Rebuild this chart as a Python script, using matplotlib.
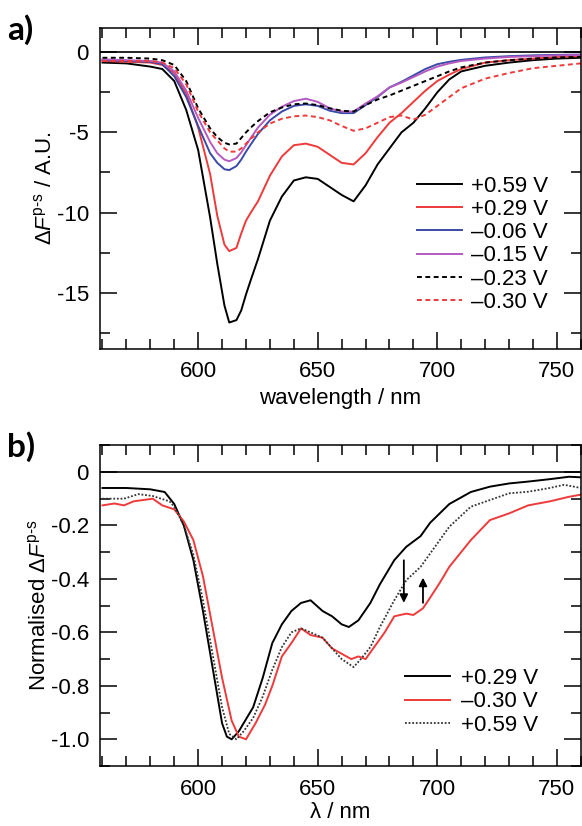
# 光谱差分图 a) / b)
import matplotlib.pyplot as plt
from matplotlib.ticker import MultipleLocator

plt.rcParams['font.family'] = ['Liberation Sans', 'DejaVu Sans']
plt.rcParams['font.size'] = 16
plt.rcParams['mathtext.fontset'] = 'custom'
plt.rcParams['mathtext.rm'] = 'Liberation Sans'
plt.rcParams['mathtext.it'] = 'Liberation Sans:italic'
plt.rcParams['axes.unicode_minus'] = False

# -------------------------- 数据 a) --------------------------
wl_a = [560, 570, 580, 585, 590, 595, 600, 605, 608, 611, 613, 616, 618, 620, 622, 625, 630, 635,
        640, 645, 650, 655, 660, 665, 670, 675, 680, 685, 690, 695, 700, 705, 710,
        720, 730, 740, 750, 760]
a_p059 = [-0.65, -0.7, -0.9, -1.05, -1.8, -3.6, -6.1, -10.3, -13.2, -15.8, -16.85, -16.7, -16.1, -15.1, -14.2,
          -12.9, -10.5, -9.0, -8.0, -7.8, -7.9, -8.4, -8.9, -9.3, -8.3, -7.0, -6.0, -5.0, -4.4, -3.5,
          -2.5, -1.7, -1.2, -0.85, -0.65, -0.5, -0.4, -0.35]
a_p029 = [-0.55, -0.6, -0.65, -0.8, -1.3, -2.6, -4.7, -7.6, -10.2, -12.0, -12.4, -12.2, -11.3, -10.5, -10.0,
          -9.3, -7.7, -6.5, -5.8, -5.7, -5.9, -6.4, -6.9, -7.0, -6.3, -5.3, -4.4, -3.8, -3.1, -2.4,
          -1.8, -1.4, -1.05, -0.65, -0.5, -0.4, -0.3, -0.25]
a_m006 = [-0.5, -0.55, -0.6, -0.75, -1.5, -2.8, -4.6, -6.3, -6.9, -7.3, -7.35, -7.1, -6.7, -6.2, -5.75,
          -5.1, -4.25, -3.7, -3.35, -3.25, -3.35, -3.65, -3.8, -3.8, -3.3, -2.8, -2.2, -1.85, -1.45, -1.05,
          -0.75, -0.6, -0.48, -0.33, -0.25, -0.2, -0.17, -0.15]
a_m015 = [-0.45, -0.5, -0.55, -0.65, -1.2, -2.4, -4.1, -5.6, -6.3, -6.7, -6.8, -6.6, -6.25, -5.8, -5.35,
          -4.7, -3.9, -3.4, -3.05, -2.9, -3.1, -3.5, -3.7, -3.7, -3.2, -2.75, -2.2, -1.9, -1.55, -1.2,
          -0.9, -0.7, -0.55, -0.4, -0.3, -0.25, -0.2, -0.18]
a_m023 = [-0.35, -0.35, -0.4, -0.5, -0.8, -1.8, -3.5, -4.75, -5.3, -5.65, -5.75, -5.7, -5.35, -5.0, -4.7,
          -4.3, -3.75, -3.45, -3.25, -3.2, -3.3, -3.5, -3.65, -3.7, -3.3, -2.95, -2.7, -2.4, -2.1, -1.8,
          -1.5, -1.2, -0.95, -0.65, -0.5, -0.4, -0.33, -0.3]
a_m030 = [-0.55, -0.55, -0.55, -0.65, -1.0, -2.0, -3.7, -5.0, -5.5, -6.0, -6.2, -6.2, -6.0, -5.7, -5.4,
          -5.0, -4.45, -4.15, -4.0, -3.95, -4.05, -4.25, -4.6, -4.9, -4.75, -4.4, -4.05, -3.95, -4.2, -3.9,
          -3.35, -2.8, -2.25, -1.65, -1.3, -1.0, -0.85, -0.7]
labels_a = ['+0.59 V', '+0.29 V', '\u20130.06 V', '\u20130.15 V', '\u20130.23 V', '\u20130.30 V']

# -------------------------- 数据 b) --------------------------
wl_b1 = [560, 570, 580, 586, 590, 594, 598, 602, 606, 610, 612, 614, 617, 623, 627, 631, 635, 639, 643,
         647, 652, 656, 660, 663, 667, 672, 676, 682, 687, 693, 697, 701, 705, 714, 722, 730, 738, 747,
         755, 760]
b_p029 = [-0.06, -0.06, -0.065, -0.075, -0.12, -0.2, -0.33, -0.52, -0.73, -0.94, -0.99, -1.0, -0.97,
          -0.88, -0.77, -0.64, -0.57, -0.52, -0.49, -0.48, -0.52, -0.54, -0.57, -0.58, -0.555, -0.49,
          -0.42, -0.33, -0.28, -0.24, -0.19, -0.155, -0.12, -0.075, -0.055, -0.043, -0.036, -0.027,
          -0.018, -0.02]
wl_b2 = [560, 565, 569, 573, 577, 581, 585, 590, 594, 598, 602, 606, 610, 614, 617, 620, 624, 628, 631,
         635, 639, 643, 647, 652, 656, 660, 664, 667, 670, 674, 678, 682, 687, 690, 694, 697, 701, 705,
         714, 722, 730, 738, 747, 755, 760]
b_m030 = [-0.125, -0.118, -0.125, -0.11, -0.105, -0.1, -0.125, -0.14, -0.185, -0.255, -0.39, -0.58,
          -0.77, -0.93, -0.99, -1.0, -0.94, -0.87, -0.8, -0.69, -0.64, -0.585, -0.61, -0.62, -0.66,
          -0.68, -0.7, -0.69, -0.7, -0.65, -0.6, -0.54, -0.53, -0.535, -0.51, -0.47, -0.415, -0.355,
          -0.255, -0.18, -0.155, -0.125, -0.11, -0.093, -0.085]
wl_b3 = [560, 565, 569, 575, 581, 588, 590, 594, 598, 602, 606, 610, 613, 616, 619, 623, 627, 631, 635,
         639, 643, 647, 652, 656, 660, 665, 668, 672, 676, 682, 687, 693, 697, 701, 705, 714, 722, 730,
         738, 747, 753, 760]
b_p059 = [-0.1, -0.1, -0.1, -0.083, -0.09, -0.11, -0.13, -0.2, -0.31, -0.48, -0.68, -0.88, -0.98, -1.0,
          -0.97, -0.92, -0.84, -0.74, -0.655, -0.6, -0.585, -0.6, -0.62, -0.66, -0.7, -0.73, -0.7,
          -0.655, -0.58, -0.48, -0.405, -0.355, -0.305, -0.255, -0.205, -0.13, -0.105, -0.08, -0.074,
          -0.06, -0.048, -0.06]
labels_b = ['+0.29 V', '\u20130.30 V', '+0.59 V']

RED = '#ee3a3a'
BLUE = '#3a4aa6'
PURPLE = '#b45ac0'

fig = plt.figure(figsize=(5.82, 8.26), dpi=100)
ax1 = fig.add_axes([0.172, 0.5775, 0.826, 0.3885])
ax2 = fig.add_axes([0.172, 0.0726, 0.826, 0.3884])


def style_axes(ax, ymaj, ymin):
    for s in ax.spines.values():
        s.set_linewidth(1.1)
    ax.xaxis.set_major_locator(MultipleLocator(50))
    ax.xaxis.set_minor_locator(MultipleLocator(10))
    ax.yaxis.set_major_locator(MultipleLocator(ymaj))
    ax.yaxis.set_minor_locator(MultipleLocator(ymin))
    ax.tick_params(which='both', direction='in', width=1.1, top=True, right=True)
    ax.tick_params(which='major', length=12)
    ax.tick_params(which='minor', length=7)
    ax.tick_params(axis='x', which='major', pad=9)
    ax.tick_params(axis='y', which='major', pad=8)
    ax.axhline(0, color='black', lw=1.2)


# -------------------------- a) --------------------------
ax1.plot(wl_a, a_p059, color='black', lw=1.4, label=labels_a[0])
ax1.plot(wl_a, a_p029, color=RED, lw=1.4, label=labels_a[1])
ax1.plot(wl_a, a_m006, color=BLUE, lw=1.4, label=labels_a[2])
ax1.plot(wl_a, a_m015, color=PURPLE, lw=1.4, label=labels_a[3])
ax1.plot(wl_a, a_m023, color='black', lw=1.4, ls=(0, (2.5, 1.8)), label=labels_a[4])
ax1.plot(wl_a, a_m030, color=RED, lw=1.4, ls=(0, (2.5, 1.8)), label=labels_a[5])
ax1.set_xlim(559, 760)
ax1.set_ylim(-18.5, 1.5)
style_axes(ax1, 5, 2.5)
ax1.set_yticks([0, -5, -10, -15])
ax1.set_xlabel('wavelength / nm', labelpad=4)
ax1.set_ylabel(r'$\Delta F^{\text{p-s}}$ / A.U.', labelpad=0)
ax1.legend(loc='upper left', bbox_to_anchor=(0.66, 0.54), frameon=False, fontsize=16,
           handlelength=2.0, handletextpad=0.4, labelspacing=0.1, borderpad=0, borderaxespad=0)

# -------------------------- b) --------------------------
ax2.plot(wl_b1, b_p029, color='black', lw=1.4, label=labels_b[0])
ax2.plot(wl_b2, b_m030, color=RED, lw=1.4, label=labels_b[1])
ax2.plot(wl_b3, b_p059, color='#333333', lw=1.3, ls=(0, (1, 1)), label=labels_b[2])
ax2.annotate('', xy=(686, -0.50), xytext=(686, -0.32),
             arrowprops=dict(arrowstyle='-|>', color='black', lw=1.3, mutation_scale=12))
ax2.annotate('', xy=(694, -0.385), xytext=(694, -0.50),
             arrowprops=dict(arrowstyle='-|>', color='black', lw=1.3, mutation_scale=12))
ax2.set_xlim(559, 760)
ax2.set_ylim(-1.1, 0.1)
style_axes(ax2, 0.2, 0.1)
ax2.set_yticks([0, -0.2, -0.4, -0.6, -0.8, -1.0])
ax2.set_yticklabels(['0', '-0.2', '-0.4', '-0.6', '-0.8', '-1.0'])
ax2.set_xlabel('\u03bb / nm', labelpad=2)
ax2.set_ylabel(r'Normalised $\Delta F^{\text{p-s}}$', labelpad=0)
ax2.legend(loc='upper left', bbox_to_anchor=(0.635, 0.305), frameon=False, fontsize=16,
           handlelength=2.0, handletextpad=0.5, labelspacing=0.1, borderpad=0, borderaxespad=0)

fig.text(0.012, 1 - 40 / 826, 'a)', fontsize=24, fontweight='bold', family='Lato', va='baseline')
fig.text(0.012, 1 - 457 / 826, 'b)', fontsize=24, fontweight='bold', family='Lato', va='baseline')

fig.savefig('out.png', dpi=100)
